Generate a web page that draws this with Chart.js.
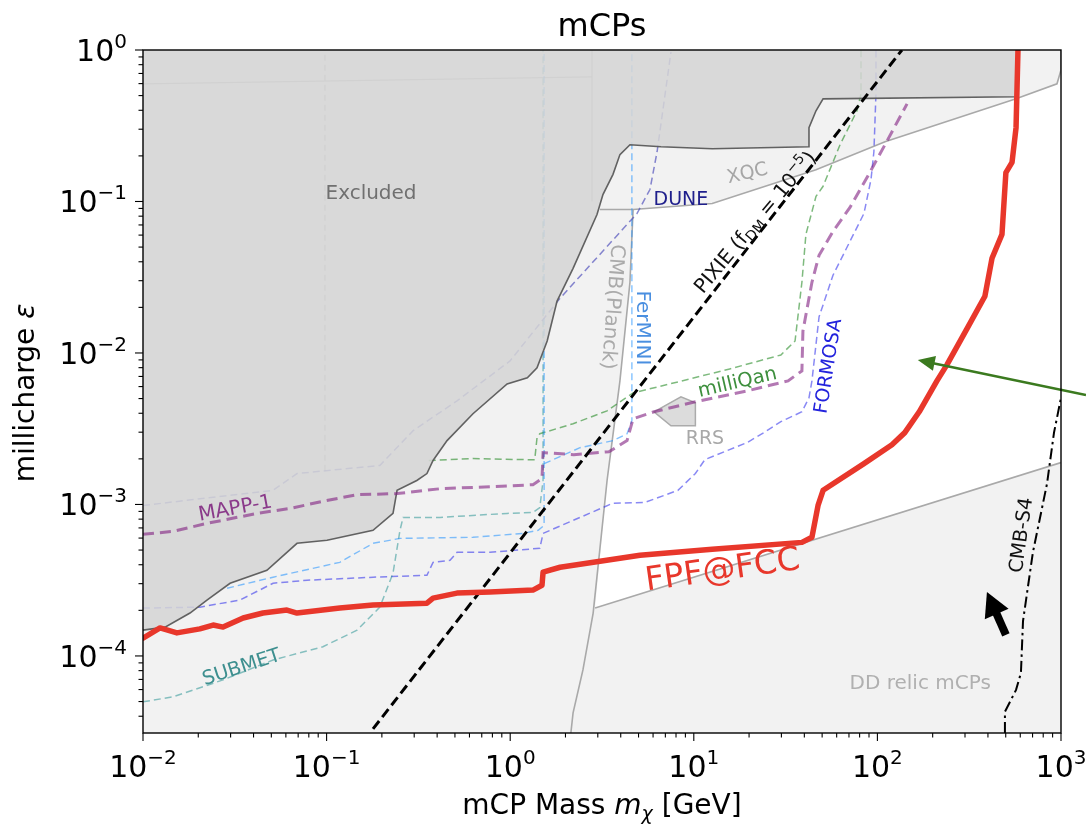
<!DOCTYPE html>
<html>
<head>
<meta charset="utf-8">
<title>mCPs</title>
<script src="https://cdn.jsdelivr.net/npm/chart.js@4.4.1/dist/chart.umd.min.js"></script>
<style>
  html, body { margin: 0; padding: 0; background: #fff; }
  canvas { display: block; }
</style>
</head>
<body>
<canvas id="chart" width="1086" height="827"></canvas>
<script>
// mass in GeV, epsilon = millicharge

// FPF@FCC projected reach
const fpfMass = [0.01, 0.01238, 0.0153, 0.0204, 0.0241, 0.0273, 0.0351, 0.045, 0.0608, 0.069, 0.118, 0.179, 0.352, 0.38, 0.513, 0.776, 1.33, 1.49, 1.51, 1.87, 5.09, 12.6, 38.8, 44.0, 47.5, 50.6, 84.5, 120, 141, 169, 211, 239, 311, 385, 421, 477, 501, 541, 569, 583];
const fpfEps = [1.31e-4, 1.53e-4, 1.42e-4, 1.51e-4, 1.60e-4, 1.55e-4, 1.78e-4, 1.92e-4, 2.01e-4, 1.92e-4, 2.07e-4, 2.17e-4, 2.23e-4, 2.41e-4, 2.60e-4, 2.64e-4, 2.72e-4, 2.93e-4, 3.57e-4, 3.85e-4, 4.62e-4, 5.06e-4, 5.62e-4, 6.07e-4, 9.85e-4, 1.24e-3, 1.86e-3, 2.48e-3, 2.98e-3, 4.09e-3, 6.54e-3, 8.34e-3, 1.48e-2, 2.37e-2, 4.22e-2, 6.07e-2, 0.155, 0.181, 0.307, 1];

// existing exclusion (lower edge)
const exclMass = [0.01, 0.01318, 0.01803, 0.0223, 0.0298, 0.0473, 0.069, 0.1005, 0.179, 0.230, 0.242, 0.310, 0.352, 0.380, 0.453, 0.627, 0.962, 1.24, 1.40, 1.59, 1.80, 2.20, 2.97, 3.20, 3.63, 3.96, 4.49, 6.63, 12.6, 42.4, 42.4, 46.3, 50.6, 569, 583];
const exclEps = [1.48e-4, 1.55e-4, 1.92e-4, 2.34e-4, 3.02e-4, 3.68e-4, 5.54e-4, 5.80e-4, 6.75e-4, 8.73e-4, 1.24e-3, 1.44e-3, 1.60e-3, 1.95e-3, 2.64e-3, 3.97e-3, 6.25e-3, 6.85e-3, 7.97e-3, 0.012, 0.022, 0.0362, 0.082, 0.111, 0.151, 0.204, 0.237, 0.230, 0.223, 0.230, 0.307, 0.397, 0.476, 0.491, 1];

// cosmology / direct detection bounds
const cmbMass = [2.14, 2.20, 2.49, 2.83, 3.37, 3.96, 4.49, 4.67];
const cmbEps = [3.1e-5, 4.21e-5, 8.09e-5, 1.92e-4, 1.44e-3, 6.54e-3, 0.0293, 0.0886];
const xqcMass = [3.08, 4.67, 12.6, 46.3, 110, 569, 951, 1000, 1000];
const xqcEps = [0.0886, 0.0886, 0.097, 0.162, 0.248, 0.476, 0.598, 0.738, 1];
const ddMass = [2.90, 1000];
const ddEps = [2.07e-4, 1.89e-3];
const rrsMass = [6.07, 8.51, 10.2, 10.2, 7.51];
const rrsEps = [4.09e-3, 5.14e-3, 4.69e-3, 3.31e-3, 3.31e-3];

// other experiments
const mappMass = [0.01, 0.01456, 0.0223, 0.0418, 0.0632, 0.0955, 0.1465, 0.242, 0.415, 0.776, 1.33, 1.49, 1.51, 2.22, 3.45, 4.33, 4.67, 6.07, 10.2, 19.5, 32.6, 38.8, 39.3, 44.0, 48.1, 57.3, 70.9, 88.9, 110, 145];
const mappEps = [6.35e-4, 6.64e-4, 7.50e-4, 8.73e-4, 9.41e-4, 1.05e-3, 1.16e-3, 1.18e-3, 1.27e-3, 1.31e-3, 1.35e-3, 1.48e-3, 2.20e-3, 2.13e-3, 2.23e-3, 2.64e-3, 3.68e-3, 4.09e-3, 4.76e-3, 5.62e-3, 6.54e-3, 7.62e-3, 0.01396, 0.0293, 0.0441, 0.0635, 0.0914, 0.148, 0.237, 0.441];
const mqMass = [0.36, 0.627, 1.36, 1.40, 1.45, 2.20, 3.37, 4.67, 8.20, 15.7, 29.8, 35.6, 38.8, 40.8, 46.3, 50.6, 62.6, 77.4, 81.4, 81.4];
const mqEps = [1.95e-3, 2.01e-3, 1.97e-3, 2.76e-3, 2.93e-3, 3.41e-3, 4.15e-3, 5.45e-3, 6.44e-3, 7.85e-3, 9.70e-3, 0.012, 0.0293, 0.0607, 0.108, 0.126, 0.237, 0.397, 0.514, 1];
const formosaMass = [0.01, 0.0204, 0.0338, 0.0511, 0.0782, 0.179, 0.352, 0.380, 0.470, 0.513, 0.776, 1.45, 1.51, 2.40, 3.63, 5.4, 8.2, 10.2, 11.5, 19.5, 24.1, 29.8, 38.8, 42.4, 44.0, 48.1, 57.3, 70.9, 84.5, 92.3, 95.7, 98.2, 98.2];
const formosaEps = [2.07e-4, 2.10e-4, 2.34e-4, 3.02e-4, 3.16e-4, 3.31e-4, 3.41e-4, 4.15e-4, 4.28e-4, 4.83e-4, 4.83e-4, 5.14e-4, 6.44e-4, 8.21e-4, 1.02e-3, 1.03e-3, 1.24e-3, 1.60e-3, 1.98e-3, 2.56e-3, 2.98e-3, 3.52e-3, 4.09e-3, 5.06e-3, 6.54e-3, 0.0173, 0.0326, 0.0546, 0.0834, 0.140, 0.213, 0.514, 1];
const submetMass = [0.01, 0.01456, 0.0273, 0.0511, 0.0955, 0.1465, 0.195, 0.230, 0.251, 0.261, 0.415, 0.962, 1.33, 1.45, 1.51, 1.51];
const submetEps = [4.98e-5, 5.37e-5, 6.95e-5, 9.41e-5, 1.15e-4, 1.48e-4, 2.10e-4, 3.52e-4, 6.75e-4, 8.21e-4, 8.21e-4, 8.73e-4, 8.86e-4, 9.55e-4, 1.44e-3, 1];
const fermiMesonMass = [0.0287, 0.0511, 0.118, 0.179, 0.251, 0.627, 1.17, 1.42, 1.53, 1.53];
const fermiMesonEps = [2.80e-4, 3.31e-4, 4.15e-4, 5.54e-4, 5.97e-4, 6.07e-4, 6.44e-4, 6.75e-4, 7.28e-4, 1];
const fermiDyMass = [1.53, 2.40, 3.63, 4.33, 4.60, 4.60];
const fermiDyEps = [1.86e-3, 2.37e-3, 2.64e-3, 2.93e-3, 3.57e-3, 1];
const duneMass = [0.01, 0.0511, 0.069, 0.195, 0.296, 0.513, 0.998, 1.87, 4.91, 5.77, 6.31, 7.51];
const duneEps = [9.85e-4, 1.24e-3, 1.60e-3, 1.81e-3, 3.07e-3, 4.83e-3, 8.86e-3, 0.023, 0.0834, 0.120, 0.213, 0.97];
const pixieMass = [0.179, 136];
const pixieEps = [3.3e-5, 1];
const cmbS4Mass = [495, 495, 569, 605, 621, 703, 839, 916, 1000];
const cmbS4Eps = [3.1e-5, 4.28e-5, 5.97e-5, 7.73e-5, 1.70e-4, 4.83e-4, 1.37e-3, 2.98e-3, 5.06e-3];

// older limits, mostly hidden under the excluded band
const oldAMass = [0.098, 0.098];
const oldAEps = [1.67e-3, 1];
const oldBMass = [0.01, 2.79];
const oldBEps = [0.598, 0.664];
const oldCMass = [2.79, 2.79];
const oldCEps = [0.1, 1];

// axis ticks (powers of ten)
const xTickExp = [-2, -1, 0, 1, 2, 3];
const yTickExp = [-4, -3, -2, -1, 0];

const FONT = '"DejaVu Sans", "Liberation Sans", sans-serif';
const pts = (xs, ys) => xs.map((m, i) => ({ x: m, y: ys[i] }));

function curve(label, xs, ys, color, width, dash, order, extra) {
  return Object.assign({
    label, data: pts(xs, ys),
    borderColor: color, borderWidth: width, borderDash: dash || [],
    pointRadius: 0, pointHoverRadius: 0, fill: false, tension: 0,
    order, clip: 0
  }, extra || {});
}

// text with mixed sizes / sub- and superscripts
function rich(ctx, segs, x, y, angle, align, middle) {
  ctx.save();
  ctx.translate(x, y);
  if (angle) ctx.rotate(angle * Math.PI / 180);
  let total = 0;
  const widths = segs.map(s => {
    ctx.font = (s.italic ? 'italic ' : '') + s.size + 'px ' + FONT;
    const w = ctx.measureText(s.t).width;
    total += w;
    return w;
  });
  let cx = align === 'right' ? -total : align === 'left' ? 0 : -total / 2;
  const shift = middle ? 0.36 * segs[0].size : 0;
  ctx.textAlign = 'left';
  ctx.textBaseline = 'alphabetic';
  segs.forEach((s, i) => {
    ctx.font = (s.italic ? 'italic ' : '') + s.size + 'px ' + FONT;
    ctx.fillStyle = s.color || '#000';
    ctx.fillText(s.t, cx, shift + (s.dy || 0));
    cx += widths[i];
  });
  ctx.restore();
}

const seg = (t, size, color, opt) => Object.assign({ t, size, color }, opt || {});

const notes = [
  { segs: [seg('Excluded', 20, '#707070')], m: 0.1746, e: 0.1155, rot: 0 },
  { segs: [seg('XQC', 19, '#a6a6a6')], m: 19.5, e: 0.1566, rot: -13 },
  { segs: [seg('DUNE', 19, '#1f1f8c')], m: 8.51, e: 0.1055, rot: 0 },
  { segs: [seg('CMB(Planck)', 20, '#aaaaaa')], m: 3.67, e: 0.0201, rot: 94.5 },
  { segs: [seg('FerMINI', 20, '#4a8fe0')], m: 5.36, e: 0.01462, rot: 90 },
  { segs: [seg('PIXIE (f', 20, '#111'), seg('DM', 14, '#111', { dy: 4 }), seg(' = 10', 20, '#111'), seg('−5', 14, '#111', { dy: -9 }), seg(')', 20, '#111')], m: 21.4, e: 0.0735, rot: -50 },
  { segs: [seg('milliQan', 19.5, '#3d8f3d')], m: 17.2, e: 6.53e-3, rot: -13 },
  { segs: [seg('FORMOSA', 19, '#2323dd')], m: 53.1, e: 8.21e-3, rot: -81 },
  { segs: [seg('RRS', 19, '#a8a8a8')], m: 11.5, e: 2.79e-3, rot: 0 },
  { segs: [seg('MAPP-1', 20, '#8a3a8a')], m: 0.0317, e: 9.63e-4, rot: -10.5 },
  { segs: [seg('SUBMET', 19.5, '#3d8f8f')], m: 0.0342, e: 8.59e-5, rot: -18 },
  { segs: [seg('FPF@FCC', 33, '#e8372b')], m: 14.3, e: 3.81e-4, rot: -8 },
  { segs: [seg('CMB-S4', 19.5, '#111')], m: 598, e: 6.29e-4, rot: -82 },
  { segs: [seg('DD relic mCPs', 20, '#b0b0b0')], m: 171, e: 6.73e-5, rot: 0 }
];

const pointerArrow = { from: [1368, 5.28e-3], to: [166, 8.99e-3] };
const driftArrow = { from: [501, 1.38e-4], to: [395, 2.64e-4] };

const px = (chart, m, e) => [chart.scales.x.getPixelForValue(m), chart.scales.y.getPixelForValue(e)];

// background shading: light grey everywhere, open window in white, RRS patch
const regionPlugin = {
  id: 'regions',
  beforeDatasetsDraw(chart) {
    const { ctx, chartArea: a } = chart;
    const poly = (xs, ys) => {
      ctx.beginPath();
      xs.forEach((m, i) => {
        const [u, v] = px(chart, m, ys[i]);
        if (i) ctx.lineTo(u, v); else ctx.moveTo(u, v);
      });
      ctx.closePath();
    };
    ctx.save();
    ctx.beginPath();
    ctx.rect(a.left, a.top, a.right - a.left, a.bottom - a.top);
    ctx.clip();
    ctx.fillStyle = '#f2f2f2';
    ctx.fillRect(a.left, a.top, a.right - a.left, a.bottom - a.top);

    const winMass = [ddMass[0]], winEps = [ddEps[0]];
    cmbMass.forEach((m, i) => { if (cmbEps[i] > ddEps[0]) { winMass.push(m); winEps.push(cmbEps[i]); } });
    xqcMass.forEach((m, i) => { if (m > cmbMass[cmbMass.length - 1] && xqcEps[i] < 1) { winMass.push(m); winEps.push(xqcEps[i]); } });
    winMass.push(ddMass[1]); winEps.push(ddEps[1]);
    poly(winMass, winEps);
    ctx.fillStyle = '#ffffff';
    ctx.fill();

    poly(rrsMass, rrsEps);
    ctx.fillStyle = '#dcdcdc';
    ctx.fill();
    ctx.strokeStyle = '#ababab';
    ctx.lineWidth = 1.5;
    ctx.stroke();
    ctx.restore();
  }
};

function arrowHead(ctx, x0, y0, x1, y1, len, half) {
  const ang = Math.atan2(y1 - y0, x1 - x0);
  ctx.beginPath();
  ctx.moveTo(x1, y1);
  ctx.lineTo(x1 - len * Math.cos(ang) + half * Math.sin(ang), y1 - len * Math.sin(ang) - half * Math.cos(ang));
  ctx.lineTo(x1 - len * Math.cos(ang) - half * Math.sin(ang), y1 - len * Math.sin(ang) + half * Math.cos(ang));
  ctx.closePath();
  ctx.fill();
}

const labelPlugin = {
  id: 'labels',
  afterDatasetsDraw(chart) {
    const { ctx } = chart;
    notes.forEach(n => {
      const [u, v] = px(chart, n.m, n.e);
      rich(ctx, n.segs, u, v, n.rot, 'center', true);
    });
    // small black arrow near CMB-S4
    const [bx0, by0] = px(chart, driftArrow.from[0], driftArrow.from[1]);
    const [bx1, by1] = px(chart, driftArrow.to[0], driftArrow.to[1]);
    const ang = Math.atan2(by1 - by0, bx1 - bx0);
    const headLen = 24;
    ctx.save();
    ctx.strokeStyle = '#000';
    ctx.fillStyle = '#000';
    ctx.lineWidth = 8;
    ctx.beginPath();
    ctx.moveTo(bx0, by0);
    ctx.lineTo(bx1 - (headLen - 2) * Math.cos(ang), by1 - (headLen - 2) * Math.sin(ang));
    ctx.stroke();
    arrowHead(ctx, bx0, by0, bx1, by1, headLen, 13);
    ctx.restore();
  }
};

const framePlugin = {
  id: 'frame',
  afterDraw(chart) {
    const { ctx, chartArea: a, scales: { x, y } } = chart;
    ctx.save();
    // pointer arrow coming in from the right margin
    const [gx0, gy0] = px(chart, pointerArrow.from[0], pointerArrow.from[1]);
    const [gx1, gy1] = px(chart, pointerArrow.to[0], pointerArrow.to[1]);
    const gAng = Math.atan2(gy1 - gy0, gx1 - gx0);
    ctx.strokeStyle = '#3b7a1f';
    ctx.fillStyle = '#3b7a1f';
    ctx.lineWidth = 2.6;
    ctx.beginPath();
    ctx.moveTo(gx0, gy0);
    ctx.lineTo(gx1 - 12 * Math.cos(gAng), gy1 - 12 * Math.sin(gAng));
    ctx.stroke();
    arrowHead(ctx, gx0, gy0, gx1, gy1, 17, 7.5);

    // axes box
    ctx.strokeStyle = '#000';
    ctx.lineWidth = 1.4;
    ctx.strokeRect(a.left, a.top, a.right - a.left, a.bottom - a.top);

    // tick marks
    ctx.lineWidth = 1.1;
    for (let d = -2; d <= 3; d++) {
      for (let k = 1; k <= 9; k++) {
        const v = k * Math.pow(10, d);
        if (v > 1000 * 1.0001) continue;
        const u = x.getPixelForValue(v);
        ctx.beginPath();
        ctx.moveTo(u, a.bottom);
        ctx.lineTo(u, a.bottom + (k === 1 ? 8 : 4.5));
        ctx.stroke();
      }
    }
    for (let d = -5; d <= 0; d++) {
      for (let k = 1; k <= 9; k++) {
        const v = k * Math.pow(10, d);
        if (v < y.min || v > 1.0001) continue;
        const w = y.getPixelForValue(v);
        ctx.beginPath();
        ctx.moveTo(a.left, w);
        ctx.lineTo(a.left - (k === 1 ? 8 : 4.5), w);
        ctx.stroke();
      }
    }

    // tick labels
    xTickExp.forEach(p => {
      const u = x.getPixelForValue(Math.pow(10, p));
      const ex = (p < 0 ? '−' : '') + Math.abs(p);
      rich(ctx, [seg('10', 30, '#000'), seg(ex, 20, '#000', { dy: -13 })], u, 777, 0, 'center');
    });
    yTickExp.forEach(p => {
      const w = y.getPixelForValue(Math.pow(10, p));
      const ex = (p < 0 ? '−' : '') + Math.abs(p);
      rich(ctx, [seg('10', 30, '#000'), seg(ex, 20, '#000', { dy: -13 })], a.left - 16, w + 11, 0, 'right');
    });

    // axis titles and chart title
    const mid = (a.left + a.right) / 2;
    rich(ctx, [seg('mCP Mass ', 28, '#000'), seg('m', 28, '#000', { italic: true }), seg('χ', 19, '#000', { italic: true, dy: 6 }), seg(' [GeV]', 28, '#000')], mid, 814, 0, 'center');
    rich(ctx, [seg('millicharge ', 28, '#000'), seg('ε', 28, '#000', { italic: true })], 34, 393, -90, 'center');
    rich(ctx, [seg('mCPs', 32, '#000')], mid, 36, 0, 'center');
    ctx.restore();
  }
};

const datasets = [
  curve('old A', oldAMass, oldAEps, 'rgba(165,165,165,0.9)', 1.2, [6, 4], 40),
  curve('old B', oldBMass, oldBEps, 'rgba(175,175,175,0.9)', 1.3, [], 40),
  curve('old C', oldCMass, oldCEps, 'rgba(175,175,175,0.9)', 1.3, [], 40),
  curve('XQC', xqcMass, xqcEps, '#a9a9a9', 1.6, [], 35),
  curve('CMB (Planck)', cmbMass, cmbEps, '#a9a9a9', 1.6, [], 35),
  curve('DD relic', ddMass, ddEps, '#a9a9a9', 1.6, [], 35),
  curve('DUNE', duneMass, duneEps, 'rgba(70,70,185,0.65)', 1.5, [7, 4], 30),
  curve('FerMINI meson', fermiMesonMass, fermiMesonEps, 'rgba(30,144,255,0.55)', 1.4, [7, 4], 30),
  curve('FerMINI DY', fermiDyMass, fermiDyEps, 'rgba(30,144,255,0.55)', 1.4, [7, 4], 30),
  curve('SUBMET', submetMass, submetEps, 'rgba(0,128,128,0.45)', 1.5, [7, 4], 30),
  curve('FORMOSA', formosaMass, formosaEps, 'rgba(40,40,235,0.55)', 1.5, [7, 4], 30),
  curve('milliQan', mqMass, mqEps, 'rgba(20,130,20,0.55)', 1.5, [7, 4], 30),
  curve('Excluded', exclMass, exclEps, 'rgba(90,90,90,0.95)', 1.6, [], 20, { fill: 'end', backgroundColor: 'rgba(213,213,213,0.86)' }),
  curve('MAPP-1', mappMass, mappEps, 'rgba(128,30,128,0.6)', 3, [11, 6], 10),
  curve('CMB-S4', cmbS4Mass, cmbS4Eps, '#000', 2, [11, 4, 2.5, 4], 6),
  curve('PIXIE', pixieMass, pixieEps, '#000', 3, [10, 5], 5),
  curve('FPF@FCC', fpfMass, fpfEps, '#e8372b', 5.5, [], 1, { borderJoinStyle: 'round', borderCapStyle: 'round' })
];

new Chart(document.getElementById('chart'), {
  type: 'line',
  data: { datasets },
  options: {
    responsive: false,
    animation: false,
    devicePixelRatio: 1,
    layout: { padding: { left: 143, right: 25, top: 50, bottom: 94 } },
    scales: {
      x: { type: 'logarithmic', min: 0.01, max: 1000, display: false },
      y: { type: 'logarithmic', min: 3.1e-5, max: 1, display: false }
    },
    plugins: {
      legend: { display: false },
      tooltip: { enabled: false },
      title: { display: false }
    },
    events: []
  },
  plugins: [regionPlugin, labelPlugin, framePlugin]
});
</script>
</body>
</html>
